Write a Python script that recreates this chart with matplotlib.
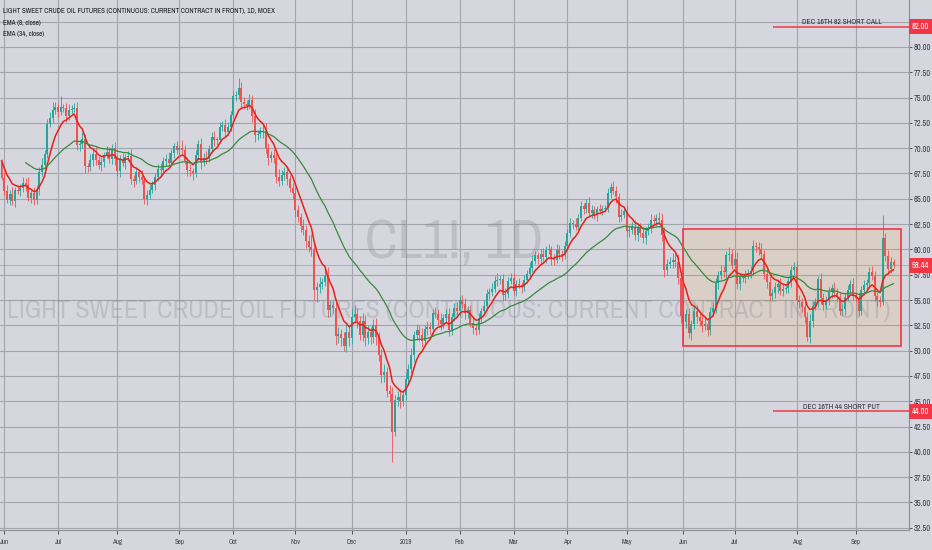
import numpy as np
import pandas as pd
import matplotlib
matplotlib.use('Agg')
import matplotlib.pyplot as plt
import matplotlib.transforms as mtransforms
from matplotlib import font_manager
from matplotlib.font_manager import FontProperties
from matplotlib.patches import Rectangle

# ---- data: CL1! daily candles, 31 May 2018 .. 20 Sep 2019 (MOEX calendar) ----
month_labels = ['', 'Jun', 'Jul', 'Aug', 'Sep', 'Oct', 'Nov', 'Dec', '2019',
                'Feb', 'Mar', 'Apr', 'May', 'Jun', 'Jul', 'Aug', 'Sep']
bars_per_month = [1, 20, 22, 23, 20, 23, 21, 20, 20, 20, 20, 22, 21, 19, 23, 22, 15]

first_open = 68.5
closes = [
    67.1,
    65.8, 64.9, 65.5, 64.8, 65.9, 65.8, 66.1, 66.6, 66.4, 65.1, 65.6, 64.9, 66.0, 67.6, 68.3, 69.4, 72.4, 73.0, 73.8, 74.1,
    73.6, 74.1, 74.0, 73.2, 73.8, 73.9, 74.0, 70.3, 70.4, 70.9, 68.2, 68.1, 68.8, 69.4, 68.8, 68.3, 68.6, 69.3, 69.6, 68.9, 70.0, 68.9,
    67.7, 68.9, 68.5, 69.1, 69.2, 67.0, 66.8, 67.6, 67.2, 66.9, 65.0, 65.4, 65.9, 66.4, 67.2, 67.9, 67.8, 68.7, 68.9, 68.5, 69.5, 70.2, 69.8,
    70.0, 69.8, 68.7, 67.8, 67.7, 67.5, 69.3, 70.4, 68.6, 69.0, 68.9, 69.9, 71.1, 70.8, 70.8, 72.1, 72.3, 71.6, 72.1, 73.3,
    75.2, 75.3, 75.9, 74.6, 74.4, 74.2, 74.8, 73.2, 71.3, 71.4, 71.6, 71.7, 70.0, 69.0, 69.3, 69.0, 67.2, 66.8, 67.4, 67.6, 67.0, 66.1, 65.6,
    63.9, 63.2, 62.3, 61.9, 60.8, 60.2, 59.9, 56.0, 56.3, 56.6, 56.8, 57.4, 54.0, 54.5, 54.2, 51.4, 51.6, 51.2, 50.5, 51.8, 51.2,
    53.3, 53.6, 52.9, 51.5, 52.9, 51.2, 51.8, 51.3, 52.5, 51.3, 49.6, 47.6, 47.9, 46.0, 45.7, 42.0, 45.1, 45.4, 45.0, 45.6,
    47.2, 48.2, 49.6, 51.5, 52.0, 51.5, 50.9, 52.1, 52.3, 52.1, 53.7, 53.6, 53.0, 52.6, 53.2, 53.6, 52.0, 53.3, 54.2, 53.9,
    55.0, 54.6, 53.7, 54.0, 52.7, 52.2, 52.0, 53.2, 53.9, 54.4, 55.6, 55.8, 56.1, 56.9, 57.0, 57.1, 55.5, 55.6, 56.9, 57.2,
    55.9, 56.6, 56.5, 56.3, 57.0, 57.6, 58.2, 58.9, 59.4, 59.1, 59.5, 59.2, 59.9, 60.0, 59.1, 59.0, 59.9, 59.5, 59.4, 60.3,
    61.6, 62.6, 62.5, 62.2, 63.1, 64.3, 64.0, 64.6, 63.6, 63.9, 63.4, 64.0, 63.8, 64.0, 64.1, 65.6, 66.2, 65.8, 65.2, 63.2, 63.4, 63.8,
    61.8, 61.9, 62.2, 61.4, 62.1, 61.6, 61.1, 61.8, 62.1, 62.9, 62.8, 63.1, 62.9, 61.4, 58.0, 58.6, 58.8, 59.0, 58.8, 57.2, 53.4,
    52.8, 53.6, 51.7, 52.6, 53.9, 53.3, 52.9, 52.4, 52.6, 52.0, 53.8, 54.2, 56.7, 57.5, 57.9, 57.8, 59.4, 59.5, 58.5,
    59.1, 56.6, 57.3, 57.2, 57.5, 57.7, 57.9, 60.3, 60.2, 60.0, 59.5, 57.6, 56.8, 55.4, 55.7, 56.3, 56.6, 55.9, 56.1, 56.2, 56.9, 58.0, 58.3,
    55.0, 54.8, 54.3, 53.3, 51.3, 52.9, 54.4, 54.8, 57.1, 55.2, 54.5, 55.0, 55.8, 56.2, 55.7, 55.3, 53.9, 54.1, 55.3, 56.0, 56.6, 55.4,
    55.2, 53.9, 56.0, 56.5, 56.7, 57.8, 57.4, 55.4, 55.0, 54.8, 61.1, 59.3, 58.1, 58.8, 58.44,
]
# wick length above the body / below the body, in dollars
wick_up = [
    0.4,
    0.5, 0.6, 0.4, 0.7, 0.3, 0.5, 0.4, 0.6, 0.5, 0.8, 0.3, 0.6, 0.4, 0.5, 0.7, 0.4, 0.5, 0.6, 0.8, 0.5,
    0.4, 1.1, 0.3, 0.5, 0.6, 0.4, 0.5, 0.6, 0.4, 0.7, 0.5, 0.3, 0.6, 0.5, 0.8, 0.4, 0.5, 0.3, 0.6, 0.5, 0.4, 0.6,
    0.5, 0.4, 0.6, 0.3, 0.5, 0.7, 0.4, 0.5, 0.3, 0.6, 0.4, 0.5, 0.6, 0.4, 0.3, 0.5, 0.6, 0.4, 0.5, 0.7, 0.4, 0.3, 0.5,
    0.3, 0.8, 0.5, 0.4, 0.6, 0.3, 0.5, 0.4, 0.6, 0.5, 0.7, 0.4, 0.5, 0.6, 0.3, 0.5, 0.4, 0.6, 0.5, 0.4,
    0.5, 0.4, 1.0, 0.6, 0.5, 0.4, 0.6, 0.5, 0.7, 0.4, 0.5, 0.6, 0.8, 0.5, 0.4, 0.6, 0.5, 0.7, 0.4, 0.5, 0.6, 0.4, 0.5,
    0.6, 0.5, 0.4, 0.7, 0.5, 0.6, 1.3, 0.8, 0.5, 0.7, 0.4, 0.6, 0.9, 0.5, 0.4, 0.6, 0.7, 0.5, 0.6, 0.8, 0.5,
    0.9, 0.9, 0.6, 0.5, 0.8, 0.6, 0.7, 0.5, 0.6, 0.7, 0.5, 0.6, 0.8, 0.5, 0.6, 0.7, 0.5, 0.6, 0.8, 0.5,
    0.6, 0.5, 0.7, 0.4, 0.6, 0.5, 0.7, 0.4, 0.6, 0.5, 0.4, 0.6, 0.5, 0.7, 0.4, 0.5, 0.6, 0.4, 0.5, 0.6,
    0.4, 0.5, 0.6, 0.4, 0.5, 0.6, 0.4, 0.5, 0.3, 0.6, 0.5, 0.4, 0.6, 0.5, 0.7, 0.4, 0.5, 0.6, 0.4, 0.5,
    0.5, 0.4, 0.6, 0.3, 0.5, 0.4, 0.6, 0.5, 0.4, 0.3, 0.5, 0.6, 0.4, 0.5, 0.3, 0.4, 0.6, 0.5, 0.4, 0.5,
    0.4, 0.5, 0.3, 0.6, 0.4, 0.5, 0.3, 0.4, 0.6, 0.5, 0.4, 0.3, 0.5, 0.4, 0.3, 0.5, 0.4, 0.6, 0.5, 0.4, 0.6, 0.5,
    0.6, 0.4, 0.5, 0.7, 0.4, 0.5, 0.6, 0.4, 0.5, 0.6, 0.5, 0.4, 0.6, 0.7, 0.8, 0.5, 0.4, 0.6, 0.5, 0.7, 0.6,
    0.7, 0.5, 0.6, 0.4, 0.5, 0.6, 0.4, 0.5, 0.6, 0.4, 0.5, 0.6, 0.5, 0.4, 0.6, 0.5, 0.4, 0.7, 0.5,
    0.8, 0.6, 0.4, 0.3, 0.5, 0.4, 0.5, 0.6, 0.4, 0.5, 0.6, 0.4, 0.5, 0.6, 0.4, 0.5, 0.4, 0.6, 0.5, 0.4, 0.5, 0.4, 0.5,
    0.6, 0.5, 0.4, 0.6, 0.5, 0.7, 0.5, 0.4, 0.3, 0.6, 0.5, 0.4, 0.5, 0.4, 0.6, 0.5, 0.4, 0.5, 0.4, 0.5, 0.4, 0.6,
    0.4, 0.5, 0.4, 0.5, 0.4, 0.5, 0.6, 0.5, 0.4, 0.4, 2.3, 0.5, 0.6, 0.4, 0.3,
]
wick_dn = [
    0.2,
    0.4, 0.3, 0.5, 0.4, 0.6, 0.3, 0.5, 0.4, 0.6, 0.3, 0.5, 0.5, 0.4, 0.6, 0.3, 0.5, 0.4, 0.3, 0.5, 0.4,
    0.5, 0.3, 0.4, 0.6, 0.4, 0.5, 0.3, 0.5, 0.6, 0.4, 0.7, 0.5, 0.4, 0.6, 0.5, 0.4, 0.6, 0.5, 0.3, 0.4, 0.5, 0.6,
    0.4, 0.5, 0.3, 0.6, 0.4, 0.5, 0.6, 0.3, 0.5, 0.4, 0.5, 0.6, 0.4, 0.3, 0.5, 0.4, 0.6, 0.3, 0.5, 0.4, 0.3, 0.5, 0.4,
    0.4, 0.5, 0.3, 0.5, 0.4, 0.6, 0.3, 0.5, 0.7, 0.4, 0.5, 0.3, 0.4, 0.6, 0.5, 0.3, 0.4, 0.5, 0.3, 0.4,
    0.3, 0.5, 0.4, 0.6, 0.5, 0.4, 0.3, 0.6, 0.7, 0.5, 0.4, 0.6, 0.5, 0.7, 0.4, 0.5, 0.6, 0.5, 0.4, 0.5, 0.6, 0.4, 0.6,
    0.7, 0.5, 0.6, 0.5, 0.7, 0.5, 0.6, 1.0, 1.2, 0.6, 0.5, 0.4, 0.7, 0.6, 0.5, 0.8, 0.6, 0.7, 0.5, 0.6, 0.7,
    0.5, 0.6, 0.7, 0.5, 0.6, 0.7, 0.5, 0.6, 0.5, 0.7, 0.6, 0.8, 0.7, 0.6, 0.8, 3.0, 0.4, 0.6, 0.7, 0.5,
    0.5, 0.6, 0.4, 0.7, 0.5, 0.6, 0.5, 0.4, 0.6, 0.5, 0.7, 0.4, 0.5, 0.6, 0.4, 0.5, 0.6, 0.5, 0.4, 0.5,
    0.5, 0.4, 0.6, 0.5, 0.4, 0.6, 0.5, 0.4, 0.5, 0.3, 0.4, 0.5, 0.4, 0.3, 0.5, 0.4, 0.6, 0.5, 0.4, 0.3,
    0.4, 0.5, 0.3, 0.6, 0.4, 0.3, 0.5, 0.4, 0.3, 0.5, 0.4, 0.3, 0.5, 0.4, 0.6, 0.5, 0.3, 0.4, 0.5, 0.3,
    0.3, 0.4, 0.5, 0.3, 0.4, 0.3, 0.5, 0.4, 0.3, 0.5, 0.4, 0.6, 0.3, 0.4, 0.3, 0.4, 0.5, 0.3, 0.6, 0.5, 0.4, 0.3,
    0.5, 0.6, 0.4, 0.5, 0.6, 0.4, 0.5, 0.6, 0.4, 0.5, 0.4, 0.5, 0.4, 0.6, 0.7, 0.5, 0.4, 0.6, 0.5, 0.6, 0.7,
    1.5, 0.6, 0.5, 0.7, 0.5, 0.6, 0.5, 0.6, 0.4, 0.6, 0.5, 0.4, 0.5, 0.6, 0.4, 0.5, 0.6, 0.5, 0.4,
    0.4, 0.5, 0.6, 0.4, 0.5, 0.4, 0.5, 0.4, 0.5, 0.6, 0.4, 0.5, 0.6, 0.5, 0.4, 0.5, 0.6, 0.4, 0.5, 0.4, 0.5, 0.6, 0.5,
    0.5, 0.6, 0.5, 0.6, 0.4, 0.5, 0.6, 0.4, 0.5, 0.6, 0.5, 0.4, 0.5, 0.6, 0.4, 0.5, 0.4, 0.5, 0.6, 0.4, 0.5, 0.4,
    0.4, 0.5, 0.4, 0.5, 0.4, 0.5, 0.4, 0.5, 0.6, 0.5, 0.3, 0.4, 0.5, 0.4, 0.3,
]

# EMA values just before the first visible bar (the chart loads earlier history)
ema8_seed = 69.2
ema34_seed = 70.7
ema34_first_bar = 9

short_call = 82.0
short_put = 44.0
range_top = 62.0
range_bottom = 50.5

assert len(closes) == sum(bars_per_month) == len(wick_up) == len(wick_dn)


# ---- fonts: TradingView uses a narrow face, take a condensed one if there is one ----
def pick_narrow_font():
    fl = font_manager.fontManager.ttflist
    regular = [f for f in fl if f.style == 'normal' and f.weight in (400, 'normal', 'regular')]
    for f in regular:
        if 'Narrow' in f.name or 'Condensed' in f.name:
            return f.fname
    for fam in ['Open Sans', 'Noto Sans', 'Roboto', 'DejaVu Sans', 'Liberation Sans']:
        for f in regular:
            if f.name == fam and f.stretch in ('condensed', 'semi-condensed', 'extra-condensed'):
                return f.fname
    return font_manager.findfont('Liberation Sans')


fp = FontProperties(fname=pick_narrow_font())

bg = '#d5d6de'
grid_c = '#a2a4ae'
up_c = '#26a69a'
dn_c = '#ef5350'
red = '#f23645'
txt_c = '#2a2e39'

c = np.array(closes)
o = np.r_[first_open, c[:-1]]
hi = np.maximum(o, c) + np.array(wick_up)
lo = np.minimum(o, c) - np.array(wick_dn)
x = np.arange(len(c))
ema8 = pd.Series([ema8_seed] + closes).ewm(span=8, adjust=False).mean().to_numpy()[1:]
ema34 = pd.Series([ema34_seed] + closes).ewm(span=34, adjust=False).mean().to_numpy()[1:]
ema34[:ema34_first_bar] = np.nan

month_starts = np.cumsum([0] + bars_per_month[:-1])

fig = plt.figure(figsize=(9.32, 5.5), dpi=100, facecolor=bg)
ax = fig.add_axes([0, 20 / 550, 909 / 932, 530 / 550], facecolor=bg)
renderer = fig.canvas.get_renderer()


def size_for(s, target_px, base=10.0):
    t = fig.text(0, 0, s, fontproperties=fp, fontsize=base)
    w = t.get_window_extent(renderer).width
    t.remove()
    return base * target_px / w


# candles
cols = np.where(c >= o, up_c, dn_c)
ax.vlines(x, lo, hi, colors=cols, linewidth=0.6, zorder=3)
body = np.where(np.abs(c - o) < 0.06, 0.06, c - o)
ax.bar(x, body, bottom=o, width=0.74, color=cols, linewidth=0, zorder=3)

ax.plot(x, ema8, color='#e8201c', linewidth=1.1, zorder=4)
ax.plot(x, ema34, color='#3a8a3c', linewidth=0.9, zorder=4)

# range box (Jun 2019 onwards)
box_w = 333.8 - month_starts[13]
ax.add_patch(Rectangle((month_starts[13], range_bottom), box_w, range_top - range_bottom,
                       facecolor='#ff9800', alpha=0.1, edgecolor='none', zorder=1))
ax.add_patch(Rectangle((month_starts[13], range_bottom), box_w, range_top - range_bottom,
                       facecolor='none', edgecolor=red, linewidth=1.2, zorder=5))

# option strikes
xmax = (909 - 1.5) / 2.695
opt_fs = size_for('DEC 16TH 82 SHORT CALL', 80)
ax.hlines([short_call, short_put], 286.3, xmax, colors=red, linewidth=1.1, zorder=5)
ax.text(311.8, short_call + 0.15, 'DEC 16TH 82 SHORT CALL', fontproperties=fp, fontsize=opt_fs,
        color=txt_c, ha='center', va='bottom', zorder=6)
ax.text(311.8, short_put + 0.15, 'DEC 16TH 44 SHORT PUT', fontproperties=fp, fontsize=opt_fs,
        color=txt_c, ha='center', va='bottom', zorder=6)

# last price line
ax.axhline(closes[-1], color=red, linewidth=0.6, alpha=0.45, zorder=2)

# watermark
wm1 = 'CL1!, 1D'
wm2 = 'LIGHT SWEET CRUDE OIL FUTURES (CONTINUOUS: CURRENT CONTRACT IN FRONT)'
ax.text(0.5, 1 - 243 / 530, wm1, transform=ax.transAxes, fontproperties=fp,
        fontsize=size_for(wm1, 178), color='#787b86', alpha=0.25,
        ha='center', va='center', zorder=1.5)
ax.text(0.494, 1 - 310 / 530, wm2, transform=ax.transAxes, fontproperties=fp,
        fontsize=size_for(wm2, 880), color='#787b86', alpha=0.25,
        ha='center', va='center', zorder=1.5)

# axes, grid, ticks
yt = np.arange(32.5, 83, 2.5)
ax.set_xlim(-1.5 / 2.695, xmax)
ax.set_ylim(32.273, 84.644)
ax.set_yticks(yt)
ax.set_yticklabels([f'{v:.2f}' for v in yt])
ax.set_xticks(month_starts[1:])
ax.set_xticklabels(month_labels[1:])
ax.yaxis.tick_right()
y_fs = size_for('80.00', 17)
x_fs = size_for('Aug', 10)
ax.tick_params(axis='y', length=2, width=0.6, pad=1.2, colors='#3c3f4a')
ax.tick_params(axis='x', length=3, width=0.6, pad=3.5, colors='#3c3f4a')
for lbl in ax.get_yticklabels():
    lbl.set_fontproperties(fp)
    lbl.set_fontsize(y_fs)
for lbl in ax.get_xticklabels():
    lbl.set_fontproperties(fp)
    lbl.set_fontsize(x_fs)
ax.grid(True, color=grid_c, linewidth=0.8)
ax.set_axisbelow(True)
for s in ['top', 'left']:
    ax.spines[s].set_visible(False)
for s in ['right', 'bottom']:
    ax.spines[s].set_color('#8c8f99')
    ax.spines[s].set_linewidth(0.8)

# price boxes on the scale
tr = mtransforms.blended_transform_factory(ax.transAxes, ax.transData)
for val in [short_call, short_put, closes[-1]]:
    ax.text(1.0028, val, f'{val:.2f}', transform=tr, fontproperties=fp, fontsize=y_fs,
            color='white', ha='left', va='center', clip_on=False, zorder=10,
            bbox=dict(boxstyle='square,pad=0.35', facecolor=red, edgecolor='none'))

# legend / title
title = 'LIGHT SWEET CRUDE OIL FUTURES (CONTINUOUS: CURRENT CONTRACT IN FRONT), 1D, MOEX'
t_fs = size_for(title, 270)
fig.text(3 / 932, 1 - 11.5 / 550, title, fontproperties=fp, fontsize=t_fs,
         color='#131722', ha='left', va='center')
fig.text(3 / 932, 1 - 23 / 550, 'EMA (8, close)', fontproperties=fp, fontsize=t_fs,
         color='#131722', ha='left', va='center')
fig.text(3 / 932, 1 - 34 / 550, 'EMA (34, close)', fontproperties=fp, fontsize=t_fs,
         color='#131722', ha='left', va='center')

fig.savefig('out.png', dpi=100, facecolor=bg)
